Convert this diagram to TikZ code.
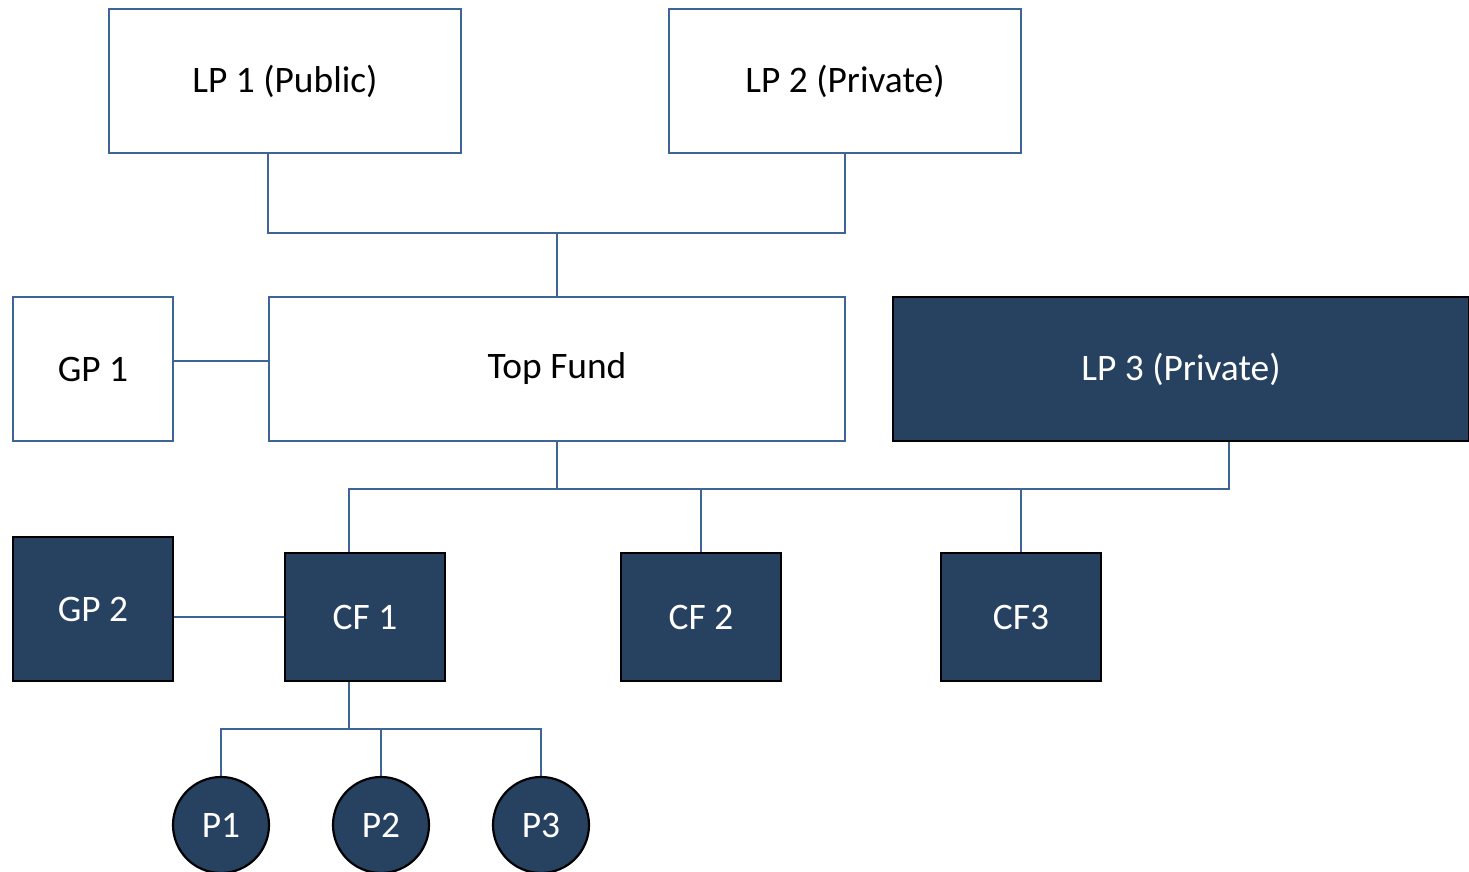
\documentclass[tikz,border=0pt]{standalone}
\usepackage{fontspec}
\setmainfont{Carlito}
\definecolor{navy}{RGB}{39,65,97}
\definecolor{steel}{RGB}{62,101,150}
\begin{document}
\begin{tikzpicture}[x=0.5pt,y=-0.5pt]
        \tikzstyle{fund}=[rectangle,draw=steel,line width=1.1pt,fill=white,inner sep=0pt,font=\fontsize{18.7}{22}\selectfont]
        \tikzstyle{darkfund}=[rectangle,draw=black,line width=1.1pt,fill=navy,text=white,inner sep=0pt,font=\fontsize{18.7}{22}\selectfont]
        \tikzstyle{company}=[circle,draw=black,line width=1.1pt,fill=navy,text=white,inner sep=0pt,minimum size=48pt,font=\fontsize{18.7}{22}\selectfont]
        \tikzstyle{link}=[draw=steel,line width=1pt]
        \useasboundingbox (0,0) rectangle (1469,872);
       \begin{scope}
         \node [fund,minimum width=176pt,minimum height=72pt] (lp1) at (285,81) {LP 1 (Public)};
         \node [fund,minimum width=176pt,minimum height=72pt] (lp2) at (845,81) {LP 2 (Private)};
         \node [fund,minimum width=80pt,minimum height=72pt] (gp1) at (93,369) {GP 1};
         \node [fund,minimum width=288pt,minimum height=72pt] (topfund) at (557,369) {Top Fund};
         \node [darkfund,minimum width=288pt,minimum height=72pt] (lp3) at (1181,369) {LP 3 (Private)};
         \node [darkfund,minimum width=80pt,minimum height=72pt] (gp2) at (93,609) {GP 2};
         \node [darkfund,minimum width=80pt,minimum height=64pt] (cf1) at (365,617) {CF 1};
         \node [darkfund,minimum width=80pt,minimum height=64pt] (cf2) at (701,617) {CF 2};
         \node [darkfund,minimum width=80pt,minimum height=64pt] (cf3) at (1021,617) {CF3};
         \node [company] (p1) at (221,825) {P1};
         \node [company] (p2) at (381,825) {P2};
         \node [company] (p3) at (541,825) {P3};
         \coordinate (j1) at (557,233);
         \coordinate (j2) at (557,489);
         \coordinate (j3) at (349,729);
         % investors into top fund
         \path[link] (lp1.south -| topfund.west) |- (j1) -| (lp2.south);
         \path[link] (j1) -- (topfund.north);
         \path[link] ([yshift=4pt]gp1.east) -- ([yshift=4pt]topfund.west);
         % top fund and lp 3 into the co funds
         \path[link] (topfund.south) -- (j2);
         \path[link] ([xshift=-8pt]cf1.north) |- (j2) -| ([xshift=24pt]lp3.south);
         \path[link] (cf2.north) -- (cf2.north |- j2);
         \path[link] (cf3.north) -- (cf3.north |- j2);
         \path[link] (gp2.east |- cf1.west) -- (cf1.west);
         % portfolio
         \path[link] ([xshift=-8pt]cf1.south) -- (j3);
         \path[link] (p1.north) |- (j3) -| (p3.north);
         \path[link] (p2.north) -- (p2.north |- j3);
        \end{scope}
      \end{tikzpicture}
\end{document}
